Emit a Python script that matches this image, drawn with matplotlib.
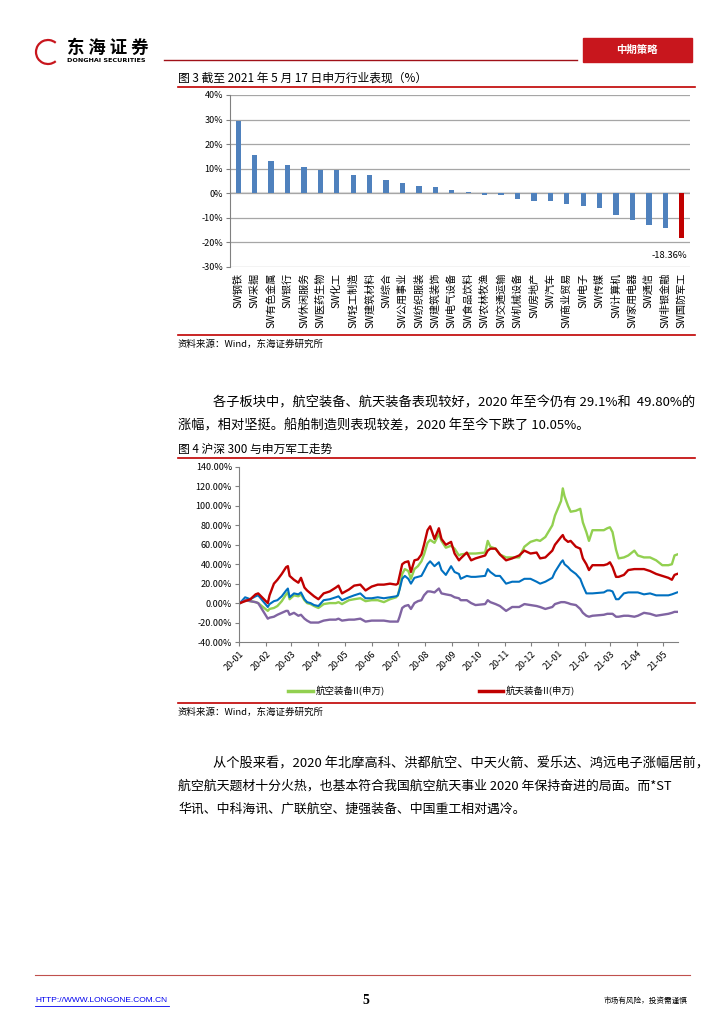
import matplotlib
matplotlib.use("Agg")
import matplotlib.pyplot as plt
import matplotlib.dates as mdates
import pandas as pd
from matplotlib.lines import Line2D
from matplotlib.patches import Rectangle, Arc
from matplotlib.ticker import FuncFormatter

plt.rcParams['font.family'] = ['Noto Sans CJK SC', 'DejaVu Sans']

# ---- chart 3: SW industry returns (%), to 2021-05-17
industries = ['SW钢铁', 'SW采掘', 'SW有色金属', 'SW银行', 'SW休闲服务', 'SW医药生物',
              'SW化工', 'SW轻工制造', 'SW建筑材料', 'SW综合', 'SW公用事业', 'SW纺织服装',
              'SW建筑装饰', 'SW电气设备', 'SW食品饮料', 'SW农林牧渔', 'SW交通运输',
              'SW机械设备', 'SW房地产', 'SW汽车', 'SW商业贸易', 'SW电子', 'SW传媒',
              'SW计算机', 'SW家用电器', 'SW通信', 'SW非银金融', 'SW国防军工']
returns = [29.5, 15.4, 13.2, 11.6, 10.9, 9.5, 9.4, 7.6, 7.5, 5.4, 4.3, 3.1,
           2.7, 1.2, 0.4, -0.6, -0.7, -2.2, -3.0, -3.2, -4.4, -5.2, -5.9,
           -8.8, -10.9, -13.1, -14.2, -18.36]

# ---- chart 4: cumulative change since 2020-01-02 (%)
dates = ['2020-01-02', '2020-01-08', '2020-01-14', '2020-01-20', '2020-01-23',
         '2020-02-03', '2020-02-05', '2020-02-10', '2020-02-14', '2020-02-19',
         '2020-02-24', '2020-02-26', '2020-02-28', '2020-03-04', '2020-03-09',
         '2020-03-12', '2020-03-16', '2020-03-19', '2020-03-23', '2020-03-27',
         '2020-04-01', '2020-04-07', '2020-04-14', '2020-04-21', '2020-04-24',
         '2020-04-28', '2020-05-06', '2020-05-12', '2020-05-19', '2020-05-25',
         '2020-06-01', '2020-06-08', '2020-06-15', '2020-06-22', '2020-06-29',
         '2020-07-01', '2020-07-03', '2020-07-06', '2020-07-09', '2020-07-13',
         '2020-07-16', '2020-07-20', '2020-07-24', '2020-07-28', '2020-07-31',
         '2020-08-04', '2020-08-07', '2020-08-12', '2020-08-17', '2020-08-20',
         '2020-08-25', '2020-08-31', '2020-09-04', '2020-09-09', '2020-09-11',
         '2020-09-18', '2020-09-23', '2020-09-28', '2020-10-09', '2020-10-12',
         '2020-10-15', '2020-10-21', '2020-10-26', '2020-11-02', '2020-11-09',
         '2020-11-17', '2020-11-23', '2020-11-30', '2020-12-07', '2020-12-11',
         '2020-12-17', '2020-12-25', '2020-12-28', '2021-01-04', '2021-01-06',
         '2021-01-08', '2021-01-12', '2021-01-15', '2021-01-21', '2021-01-26',
         '2021-01-29', '2021-02-02', '2021-02-05', '2021-02-09', '2021-02-22',
         '2021-02-26', '2021-03-01', '2021-03-04', '2021-03-08', '2021-03-11',
         '2021-03-17', '2021-03-22', '2021-03-29', '2021-04-02', '2021-04-09',
         '2021-04-16', '2021-04-23', '2021-04-30', '2021-05-07', '2021-05-11',
         '2021-05-14', '2021-05-17']
hangkong = [0, 3, 2, 1, 0, -8, -6, -5, -3, 2,
            9, 11, 4, 8, 7, 9, 3, 0, -1, -3,
            -5, -1, 0, 0, 1, -1, 3, 4, 5, 2,
            3, 3, 1, 4, 6, 8, 15, 30, 35, 33,
            25, 35, 38, 43, 50, 62, 65, 62, 71, 64,
            57, 59, 56, 49, 50, 51, 51, 51, 52, 64,
            58, 56, 50, 47, 47, 47, 58, 63, 65, 64,
            68, 80, 90, 105, 118, 110, 100, 94, 95, 97,
            83, 73, 64, 75, 75, 77, 78, 73, 55, 46,
            47, 49, 54, 49, 47, 47, 44, 39, 39, 40,
            49, 50]
hangtian = [0, 2, 4, 9, 10, 0, 8, 20, 24, 30,
            37, 38, 28, 24, 21, 26, 16, 13, 10, 7,
            4, 10, 12, 16, 18, 10, 14, 18, 19, 13,
            17, 19, 19, 20, 19, 20, 28, 40, 42, 43,
            32, 44, 45, 50, 60, 75, 79, 66, 77, 66,
            60, 63, 51, 44, 46, 52, 44, 46, 49, 54,
            56, 56, 50, 44, 46, 49, 54, 51, 52, 46,
            47, 54, 60, 68, 70, 66, 63, 64, 58, 56,
            46, 40, 34, 39, 39, 40, 42, 37, 27, 27,
            29, 34, 35, 35, 35, 33, 30, 28, 26, 24,
            29, 30]
jungong = [0, 6, 4, 7, 8, -4, -1, 2, 3, 7,
           13, 15, 6, 10, 9, 11, 4, 1, 0, -2,
           -3, 3, 4, 6, 7, 3, 6, 8, 10, 5,
           5, 6, 5, 6, 7, 8, 14, 25, 28, 25,
           20, 26, 27, 28, 33, 40, 43, 38, 42, 34,
           29, 38, 32, 30, 25, 28, 27, 27, 28, 35,
           32, 28, 28, 20, 22, 22, 25, 25, 22, 20,
           22, 26, 32, 42, 44, 40, 37, 34, 30, 25,
           18, 10, 10, 10, 11, 13, 13, 12, 4, 4,
           10, 11, 11, 11, 9, 10, 8, 8, 8, 9,
           10, 11]
chuanbo = [0, 3, 2, 1, 0, -16, -15, -14, -12, -10,
           -8, -8, -12, -10, -13, -12, -16, -18, -20, -20,
           -20, -18, -17, -17, -16, -18, -17, -17, -16, -19,
           -18, -18, -18, -19, -19, -19, -14, -5, -3, -2,
           -6, 0, 2, 3, 8, 12, 12, 11, 15, 10,
           9, 8, 6, 5, 3, 3, 0, -2, -1, 3,
           1, -1, -3, -8, -4, -4, -1, -2, -3, -4,
           -6, -4, -1, 1, 1, 1, 0, -1, -2, -6,
           -10, -13, -14, -13, -12, -11, -11, -11, -14, -14,
           -13, -13, -14, -13, -10, -11, -13, -12, -11, -10,
           -9, -9]

W, H = 724, 1024
RED = '#C00000'


def fx(x):
    return x / W


def fy(y):
    return 1 - y / H


def hline(fig, x0, x1, y, color=RED, lw=1.2):
    fig.add_artist(Line2D([fx(x0), fx(x1)], [fy(y), fy(y)], color=color, lw=lw,
                          transform=fig.transFigure))


fig = plt.figure(figsize=(7.24, 10.24), dpi=100)

# header
fig.add_artist(Arc((fx(48), fy(52)), 24 / W, 24 / H, theta1=40, theta2=320,
                   color='#C8161D', lw=1.6, transform=fig.transFigure))
fig.text(fx(67), fy(48), '东 海 证 券', fontsize=12.5, fontweight='bold', va='center')
fig.text(fx(67), fy(61), 'DONGHAI SECURITIES', fontsize=4.6, fontweight='bold',
         va='center', family=['DejaVu Sans'])
hline(fig, 164, 577, 60, color='#A01018', lw=1.0)
fig.add_artist(Rectangle((fx(583), fy(62)), 109 / W, 24 / H, color='#C8161D',
                         transform=fig.transFigure))
fig.text(fx(637), fy(50), '中期策略', fontsize=7.5, color='white', fontweight='bold',
         ha='center', va='center')

# chart 3
fig.text(fx(178), fy(78), '图 3 截至 2021 年 5 月 17 日申万行业表现（%）', fontsize=8.5,
         va='center')
hline(fig, 178, 695, 87)
ax1 = fig.add_axes([fx(230), fy(267), (690 - 230) / W, (267 - 95) / H])
x = list(range(len(industries)))
colors = ['#4F81BD'] * (len(industries) - 1) + [RED]
ax1.bar(x, returns, width=0.32, color=colors, zorder=3)
ax1.set_xlim(-0.5, len(industries) - 0.5)
ax1.set_ylim(-30, 40)
ax1.set_yticks(range(-30, 41, 10))
ax1.yaxis.set_major_formatter(FuncFormatter(lambda v, p: '%d%%' % v))
ax1.set_xticks(x)
ax1.set_xticklabels(industries, rotation=90, fontsize=7.3, va='top', ha='center')
ax1.tick_params(axis='x', length=0, pad=4)
ax1.tick_params(axis='y', labelsize=6.5, length=3, color='#808080', pad=2)
ax1.yaxis.grid(True, color='#A6A6A6', lw=0.9, zorder=0)
ax1.axhline(0, color='#E0E0E0', lw=1.5, zorder=1)
for s in ['top', 'right', 'bottom']:
    ax1.spines[s].set_visible(False)
ax1.spines['left'].set_color('#808080')
ax1.annotate('%.2f%%' % returns[-1], (x[-1], -20), xytext=(4, -6),
             textcoords='offset points', ha='right', va='top', fontsize=6.8)
hline(fig, 178, 695, 335)
fig.text(fx(178), fy(344), '资料来源：Wind，东海证券研究所', fontsize=6.8, va='center')

# paragraph 1
fig.text(fx(213), fy(403), '各子板块中，航空装备、航天装备表现较好，2020 年至今仍有 29.1%和  49.80%的',
         fontsize=9.5, va='center')
fig.text(fx(178), fy(426), '涨幅，相对坚挺。船舶制造则表现较差，2020 年至今下跌了 10.05%。',
         fontsize=9.5, va='center')

# chart 4
fig.text(fx(178), fy(449), '图 4 沪深 300 与申万军工走势', fontsize=8.5, va='center')
hline(fig, 178, 695, 458)
ax2 = fig.add_axes([fx(239), fy(642), (678 - 239) / W, (642 - 467) / H])
d = pd.to_datetime(dates)
ax2.plot(d, hangkong, color='#92D050', lw=1.7)
ax2.plot(d, jungong, color='#0070C0', lw=1.5)
ax2.plot(d, chuanbo, color='#8064A2', lw=1.7)
ax2.plot(d, hangtian, color=RED, lw=1.7)
ax2.set_xlim(pd.Timestamp('2020-01-01'), pd.Timestamp('2021-05-18'))
ax2.set_ylim(-40, 140)
ax2.set_yticks(range(-40, 141, 20))
ax2.yaxis.set_major_formatter(FuncFormatter(lambda v, p: '%.2f%%' % v))
ax2.xaxis.set_major_locator(mdates.MonthLocator())
ax2.xaxis.set_major_formatter(mdates.DateFormatter('%y-%m'))
for lab in ax2.get_xticklabels():
    lab.set_rotation(45)
    lab.set_ha('right')
    lab.set_rotation_mode('anchor')
ax2.tick_params(axis='x', labelsize=6.5, length=3, color='#808080', pad=2)
ax2.tick_params(axis='y', labelsize=6.5, length=3, color='#808080', pad=2)
for s in ['top', 'right']:
    ax2.spines[s].set_visible(False)
ax2.spines['left'].set_color('#808080')
ax2.spines['bottom'].set_color('#808080')

# legend (only two entries visible in the source)
fig.add_artist(Line2D([fx(288), fx(313)], [fy(691), fy(691)], color='#92D050', lw=2.5,
                      transform=fig.transFigure))
fig.text(fx(316), fy(691), '航空装备II(申万)', fontsize=6.8, va='center')
fig.add_artist(Line2D([fx(479), fx(503)], [fy(691), fy(691)], color=RED, lw=2.5,
                      transform=fig.transFigure))
fig.text(fx(506), fy(691), '航天装备II(申万)', fontsize=6.8, va='center')
hline(fig, 178, 695, 703)
fig.text(fx(178), fy(712), '资料来源：Wind，东海证券研究所', fontsize=6.8, va='center')

# paragraph 2
fig.text(fx(213), fy(764), '从个股来看，2020 年北摩高科、洪都航空、中天火箭、爱乐达、鸿远电子涨幅居前，',
         fontsize=9.5, va='center')
fig.text(fx(178), fy(786), '航空航天题材十分火热，也基本符合我国航空航天事业 2020 年保持奋进的局面。而*ST',
         fontsize=9.3, va='center')
fig.text(fx(178), fy(809), '华讯、中科海讯、广联航空、捷强装备、中国重工相对遇冷。',
         fontsize=9.3, va='center')

# footer
hline(fig, 35, 690, 975, color='#C0504D', lw=0.8)
fig.text(fx(35), fy(1001), 'HTTP://WWW.LONGONE.COM.CN', fontsize=6, color='#0000EE',
         va='center', family=['Liberation Sans'])
hline(fig, 35, 169, 1006, color='#0000EE', lw=0.6)
fig.text(fx(362), fy(1000), '5', fontsize=10, fontweight='bold', va='center',
         family=['Liberation Serif'])
fig.text(fx(688), fy(1001), '市场有风险，投资需谨慎', fontsize=5.5, va='center', ha='right')

fig.savefig('out.png', dpi=100)
